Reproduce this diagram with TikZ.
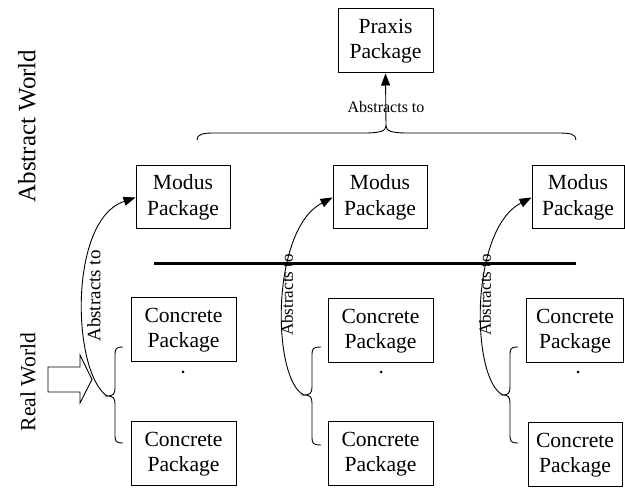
\documentclass[tikz,border=0pt]{standalone}
\usepackage{fontspec}
\setmainfont{Liberation Serif}
\usetikzlibrary{arrows.meta}
\begin{document}
\begin{tikzpicture}[x=1pt,y=-1pt,
  pkg/.style={draw,line width=1pt,align=center,inner sep=0pt,
    font=\fontsize{21.6}{25.5}\selectfont,minimum height=64pt},
  conn/.style={line width=0.9pt},
  arr/.style={conn,-{Triangle[length=12pt,width=9pt]}},
  lbl/.style={inner sep=0pt},
  brc/.style={line width=0.9pt}]
\useasboundingbox (0,0) rectangle (625,489);
% side labels
\node[lbl,rotate=90,font=\fontsize{25}{28}\selectfont] (aw) at (27,126) {Abstract World};
\node[lbl,rotate=90,font=\fontsize{21.6}{25}\selectfont] (rw) at (28,382) {Real World};
% packages
\node[pkg,minimum width=95pt] (px) at (385.5,41) {Praxis\\Package};
\node[pkg,minimum width=94pt,minimum height=63pt] (m1) at (183,197.5) {Modus\\Package};
\node[pkg,minimum width=94pt,minimum height=63pt] (m2) at (380,197.5) {Modus\\Package};
\node[pkg,minimum width=92pt,minimum height=63pt] (m3) at (578,197.5) {Modus\\Package};
\node[pkg,minimum width=105pt] (c1a) at (183.5,330) {Concrete\\Package};
\node[pkg,minimum width=105pt] (c2a) at (380.5,331) {Concrete\\Package};
\node[pkg,minimum width=97pt] (c3a) at (575,331) {Concrete\\Package};
\node[pkg,minimum width=105pt] (c1b) at (183.5,454) {Concrete\\Package};
\node[pkg,minimum width=105pt] (c2b) at (380.5,454) {Concrete\\Package};
\node[pkg,minimum width=94pt] (c3b) at (575,455) {Concrete\\Package};
% dots
\fill (183,372) circle (1.5);
\fill (381,372) circle (1.5);
\fill (578,372) circle (1.5);
% separator
\coordinate (sl) at (154,264);
\coordinate (sr) at (576,264);
\draw[line width=3pt] (sl) -- (sr);
% top brace
\coordinate (tb) at (386,126);
\draw[brc] (197,140) .. controls (197,134) and (203,133) .. (215,133) -- (365,133)
  .. controls (380,133) and (386,131) .. (tb)
  .. controls (386,131) and (392,133) .. (407,133) -- (558,133)
  .. controls (570,133) and (576,134) .. (576,140);
\draw[arr] (tb) -- (px.south);
\node[lbl,font=\fontsize{16}{18}\selectfont] (tl) at (386,107) {Abstracts to};
% small braces
\coordinate (b1) at (107,396);
\draw[brc] (123,347) .. controls (115,347) and (115,349) .. (115,357) -- (115,388)
  .. controls (115,394) and (113,396) .. (b1)
  .. controls (113,396) and (115,398) .. (115,404) -- (115,433)
  .. controls (115,441) and (115,443) .. (123,443);
\coordinate (b2) at (304,395);
\draw[brc] (321,347) .. controls (312,347) and (312,349) .. (312,357) -- (312,387)
  .. controls (312,393) and (310,395) .. (b2)
  .. controls (310,395) and (312,397) .. (312,403) -- (312,435)
  .. controls (312,443) and (312,445) .. (321,445);
\coordinate (b3) at (503,395);
\draw[brc] (518,347) .. controls (510,347) and (510,349) .. (510,357) -- (510,387)
  .. controls (510,393) and (508,395) .. (b3)
  .. controls (508,395) and (510,397) .. (510,403) -- (510,433)
  .. controls (510,441) and (510,443) .. (518,443);
% curved arrows
\draw[arr] (b1) .. controls (72,372) and (68,220) .. (m1.west);
\draw[arr] (b2) .. controls (272,380) and (270,230) .. (m2.west);
\draw[arr] (b3) .. controls (471,380) and (469,230) .. (m3.west);
\node[lbl,rotate=90,font=\fontsize{19}{21}\selectfont] (l1) at (94,296) {Abstracts to};
\node[lbl,rotate=90,font=\fontsize{17}{19}\selectfont] (l2) at (287,295) {Abstracts to};
\node[lbl,rotate=90,font=\fontsize{17}{19}\selectfont] (l3) at (485,295) {Abstracts to};
% block arrow
\draw[line width=0.9pt] (48,367) -- (80,367) -- (80,355) -- (92,379.5) -- (80,403) -- (80,392) -- (48,392) -- cycle;
\end{tikzpicture}
\end{document}
